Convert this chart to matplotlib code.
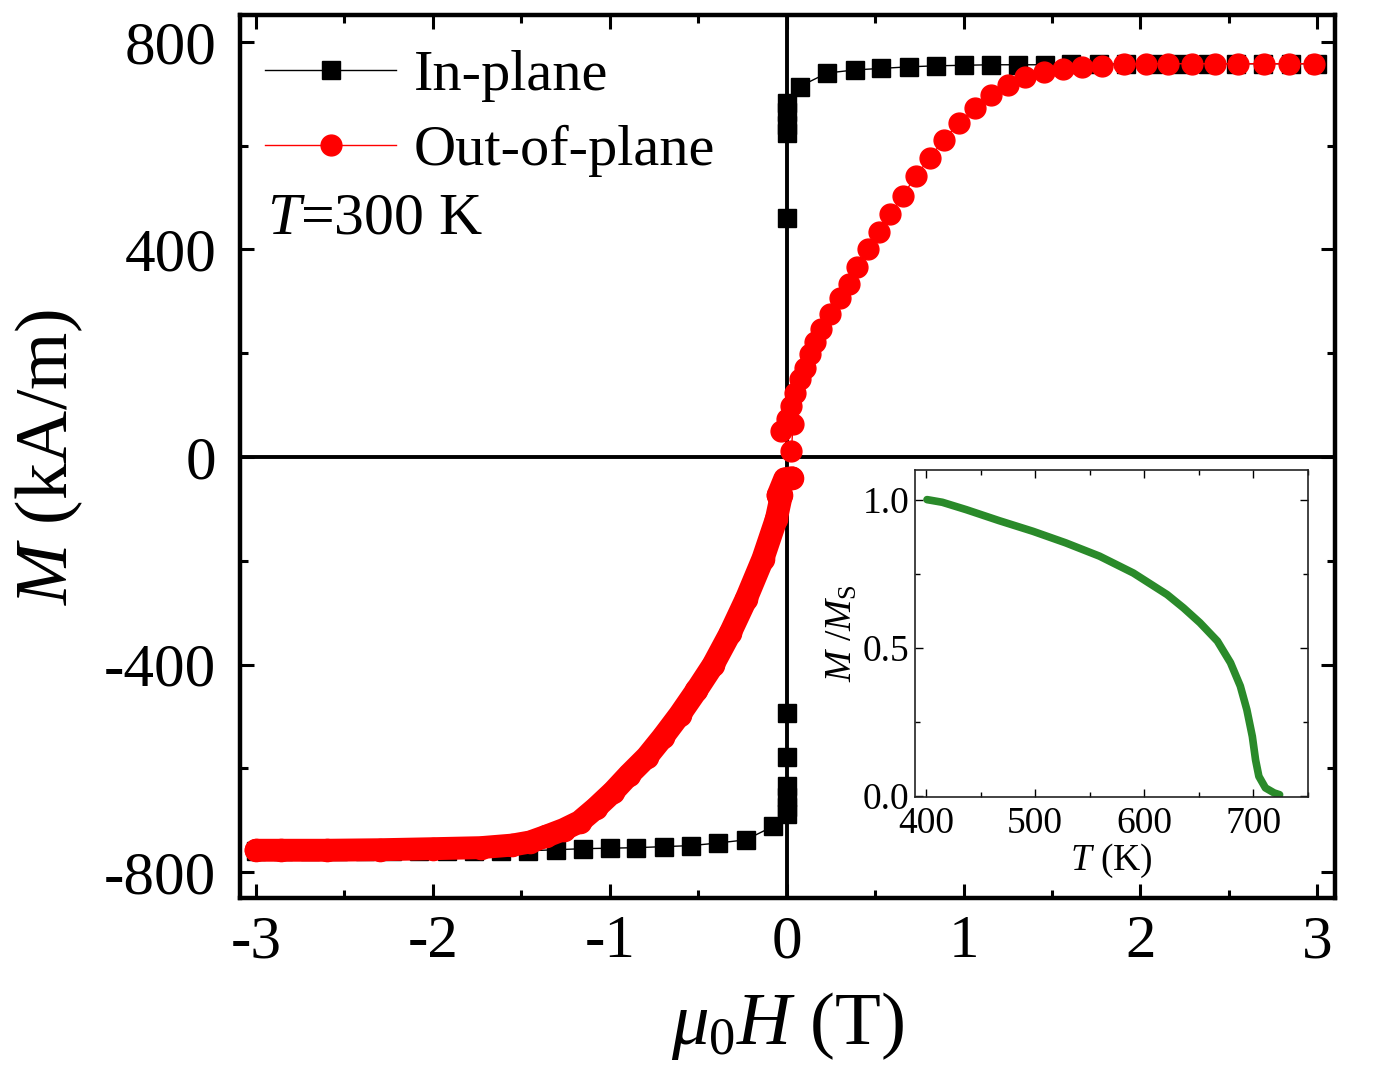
import matplotlib
matplotlib.use("Agg")
import matplotlib.pyplot as plt
from matplotlib.lines import Line2D
from matplotlib.ticker import MultipleLocator

plt.rcParams.update({
    "font.family": ["Liberation Serif", "DejaVu Serif"],
    "mathtext.fontset": "custom",
    "mathtext.rm": "Liberation Serif",
    "mathtext.it": "Liberation Serif:italic",
    "mathtext.bf": "Liberation Serif:bold",
    "axes.unicode_minus": False,
})

# in-plane loop (black squares), field in T, M in kA/m
ip_h = [-3.0, -2.846, -2.692, -2.538, -2.384, -2.23, -2.076, -1.922, -1.768,
        -1.614, -1.46, -1.305, -1.154, -1.0, -0.849, -0.693, -0.538, -0.388,
        -0.232, -0.077, 0.0, 0.0, 0.0, 0.0, 0.0, 0.0,
        0.0, 0.0, 0.0, 0.0, 0.0, 0.073, 0.228, 0.384, 0.535, 0.69, 0.845,
        1.0, 1.153, 1.307, 1.458, 1.61, 1.764, 1.918, 2.07, 2.23, 2.38, 2.54,
        2.69, 2.85, 3.0]
ip_m = [-760, -760, -760, -760, -760, -760, -760, -760, -760,
        -759, -759, -757, -755, -754, -753, -751, -749, -744,
        -738, -712, -688, -675, -655, -635, -579, -494,
        461, 625, 640, 665, 683, 714, 740, 746, 749, 752, 754,
        755, 756, 756, 756, 757, 757, 758, 758, 758, 758, 758,
        758, 758, 758]

# out-of-plane, dense negative-field branch
oop_h_neg = [-3.0, -2.86, -2.6, -2.3, -2.0, -1.73, -1.55, -1.45, -1.36, -1.26,
             -1.17, -1.08, -0.98, -0.89, -0.79, -0.70, -0.605, -0.51, -0.416,
             -0.32, -0.228, -0.134, -0.058, -0.03, -0.049, -0.011, 0.03]
oop_m_neg = [-758, -758, -758, -757, -755, -753, -748, -742, -731, -718,
             -703, -677, -645, -612, -578, -540, -497, -450, -401,
             -340, -273, -196, -119, -74, -74, -42, -40]

# out-of-plane, positive-field branch
oop_h_pos = [0.027, 0.036, -0.03, 0.0, 0.027, 0.045, 0.073, 0.102, 0.130,
             0.158, 0.196, 0.243, 0.30, 0.35, 0.40, 0.46, 0.52, 0.586, 0.657,
             0.729, 0.808, 0.887, 0.973, 1.062, 1.153, 1.25, 1.35, 1.454,
             1.56, 1.67, 1.78, 1.906, 2.03, 2.154, 2.29, 2.42, 2.55, 2.70,
             2.84, 2.98]
oop_m_pos = [12, 63, 51, 73, 99, 124, 150, 172, 198,
             221, 246, 275, 307, 334, 367, 400, 433, 469, 504,
             541, 576, 611, 644, 672, 698, 717, 732, 742,
             748, 752, 754, 757, 758, 758, 758, 758, 758, 758,
             758, 758]

# inset: M/Ms vs T
ins_t = [401, 415, 437, 467, 498, 528, 559, 590, 621, 636, 651, 667, 679,
         688, 694, 699, 702, 705, 711, 719, 724]
ins_m = [1.0, 0.991, 0.966, 0.929, 0.893, 0.854, 0.809, 0.752, 0.679, 0.634,
         0.584, 0.522, 0.449, 0.37, 0.29, 0.20, 0.12, 0.065, 0.026, 0.009,
         0.003]

RED = "#ff0000"
GREEN = "#2a8a2a"

fig = plt.figure(figsize=(13.94, 10.84), dpi=100)
ax = fig.add_axes([0.1722, 0.1716, 0.7855, 0.8146])

ax.axhline(0, color="k", lw=2.8, zorder=1)
ax.axvline(0, color="k", lw=2.8, zorder=1)

ax.plot(ip_h, ip_m, "s-", color="k", ms=13.5, lw=1, zorder=2)
# the negative branch is so densely sampled that it reads as a solid band
ax.plot(oop_h_neg, oop_m_neg, "-", color=RED, lw=16.5, solid_capstyle="round",
        solid_joinstyle="round", zorder=3)
ax.plot(oop_h_neg, oop_m_neg, "o", color=RED, ms=16, zorder=3)
ax.plot(oop_h_pos, oop_m_pos, "o-", color=RED, ms=15, lw=1, zorder=3)

ax.set_xlim(-3.09, 3.1)
ax.set_ylim(-850, 852)
ax.xaxis.set_major_locator(MultipleLocator(1))
ax.xaxis.set_minor_locator(MultipleLocator(0.5))
ax.yaxis.set_major_locator(MultipleLocator(400))
ax.yaxis.set_minor_locator(MultipleLocator(200))
ax.tick_params(which="both", direction="in", top=True, right=True,
               width=2.2, labelsize=44)
ax.tick_params(which="major", length=10)
ax.tick_params(which="minor", length=5.5)
ax.tick_params(axis="y", pad=17)
ax.tick_params(axis="x", pad=12)
for s in ax.spines.values():
    s.set_linewidth(3.2)

ax.set_xlabel(r"$\mu_0H$ (T)", fontsize=54, labelpad=14)
ax.set_ylabel(r"$M$ (kA/m)", fontsize=53, labelpad=14)

handles = [
    Line2D([], [], color="k", lw=1, marker="s", ms=13.5),
    Line2D([], [], color=RED, lw=1, marker="o", ms=15),
]
ax.legend(handles, ["In-plane", "Out-of-plane"], loc="upper left",
          bbox_to_anchor=(0.0228, 0.961), frameon=False, fontsize=42,
          handlelength=2.25, handletextpad=0.3, labelspacing=0.38,
          borderaxespad=0, borderpad=0)
ax.text(0.0247, 0.768, r"$T$=300 K", transform=ax.transAxes, fontsize=43,
        va="center", ha="left")

# inset
ins = fig.add_axes([0.6564, 0.2647, 0.2819, 0.3017])
ins.plot(ins_t, ins_m, "-", color=GREEN, lw=5.5, solid_capstyle="round",
         solid_joinstyle="round")
ins.set_xlim(390, 750)
ins.set_ylim(-0.005, 1.1)
ins.xaxis.set_major_locator(MultipleLocator(100))
ins.xaxis.set_minor_locator(MultipleLocator(50))
ins.yaxis.set_major_locator(MultipleLocator(0.5))
ins.yaxis.set_minor_locator(MultipleLocator(0.25))
ins.yaxis.set_major_formatter(plt.FormatStrFormatter("%.1f"))
ins.tick_params(which="both", direction="in", top=True, right=True,
                width=1, labelsize=27)
ins.tick_params(axis="x", pad=7)
ins.tick_params(axis="y", pad=4)
ins.tick_params(which="major", length=6)
ins.tick_params(which="minor", length=3.5)
for s in ins.spines.values():
    s.set_linewidth(1.2)
    s.set_color("#222222")
ins.set_xlabel(r"$T$ (K)", fontsize=27, labelpad=0)
ins.set_ylabel(r"$M$ /$M_\mathrm{S}$", fontsize=27, labelpad=2)

fig.savefig("out.png", dpi=100)
